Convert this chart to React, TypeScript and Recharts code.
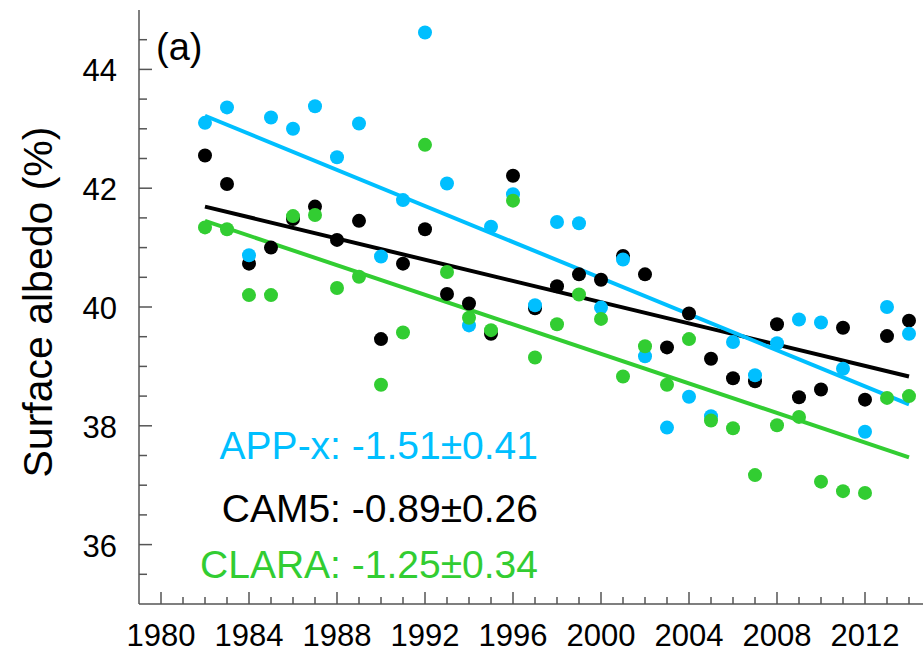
import React from 'react';
import { ComposedChart, Scatter, Line, XAxis, YAxis } from 'recharts';

// ---- data ----
const years = [
  1982, 1983, 1984, 1985, 1986, 1987, 1988, 1989, 1990, 1991, 1992,
  1993, 1994, 1995, 1996, 1997, 1998, 1999, 2000, 2001, 2002, 2003,
  2004, 2005, 2006, 2007, 2008, 2009, 2010, 2011, 2012, 2013, 2014,
];
const appx = [
  43.10, 43.36, 40.87, 43.19, 43.00, 43.38, 42.52, 43.09, 40.85, 41.80, 44.62,
  42.08, 39.69, 41.35, 41.90, 40.03, 41.43, 41.41, 39.99, 40.80, 39.17, 37.97,
  38.49, 38.16, 39.41, 38.85, 39.39, 39.79, 39.74, 38.96, 37.90, 40.00, 39.55,
];
const cam5 = [
  42.55, 42.07, 40.73, 41.00, 41.48, 41.69, 41.13, 41.45, 39.46, 40.73, 41.31,
  40.22, 40.06, 39.55, 42.21, 39.98, 40.35, 40.55, 40.46, 40.86, 40.55, 39.32,
  39.89, 39.13, 38.80, 38.75, 39.71, 38.48, 38.61, 39.65, 38.44, 39.51, 39.77,
];
const clara = [
  41.34, 41.31, 40.20, 40.20, 41.53, 41.55, 40.32, 40.51, 38.69, 39.57, 42.73,
  40.59, 39.82, 39.61, 41.79, 39.15, 39.71, 40.21, 39.80, 38.83, 39.34, 38.69,
  39.46, 38.09, 37.96, 37.17, 38.01, 38.15, 37.06, 36.90, 36.87, 38.47, 38.50,
];
const trendYears = [1982, 2014];
const appxTrend = [43.22, 38.36];
const cam5Trend = [41.69, 38.83];
const claraTrend = [41.45, 37.47];

const xTicks = [
  1980, 1981, 1982, 1983, 1984, 1985, 1986, 1987, 1988, 1989, 1990, 1991,
  1992, 1993, 1994, 1995, 1996, 1997, 1998, 1999, 2000, 2001, 2002, 2003,
  2004, 2005, 2006, 2007, 2008, 2009, 2010, 2011, 2012, 2013, 2014,
];
const xMajor = [1980, 1984, 1988, 1992, 1996, 2000, 2004, 2008, 2012];
const yTicks = [
  35.5, 36, 36.5, 37, 37.5, 38, 38.5, 39, 39.5, 40, 40.5, 41, 41.5, 42,
  42.5, 43, 43.5, 44, 44.5,
];
const yMajor = [36, 38, 40, 42, 44];

const labels = [
  { text: 'APP-x: -1.51\u00B10.41', color: '#00BFFF' },
  { text: 'CAM5: -0.89\u00B10.26', color: '#000000' },
  { text: 'CLARA: -1.25\u00B10.34', color: '#32CD32' },
];

const BLUE = '#00BFFF';
const GREEN = '#32CD32';
const BLACK = '#000000';
const AXIS = '#555555';
const FONT = '"Liberation Sans", Arial, Helvetica, sans-serif';

const toPoints = (vals: number[]) => years.map((y, i) => ({ year: y, v: vals[i] }));
const toTrend = (vals: number[]) => trendYears.map((y, i) => ({ year: y, v: vals[i] }));

const BottomTick = (p: any) => {
  const major = xMajor.includes(p.payload.value);
  return (
    <g>
      <line x1={p.x} y1={p.y} x2={p.x} y2={p.y - (major ? 12 : 7)} stroke={AXIS} strokeWidth={1.5} />
      {major && (
        <text x={p.x} y={p.y + 42} textAnchor="middle" fontSize={31} fontFamily={FONT} fill="#000">
          {p.payload.value}
        </text>
      )}
    </g>
  );
};
const TopTick = (p: any) => {
  const major = xMajor.includes(p.payload.value);
  return <line x1={p.x} y1={p.y} x2={p.x} y2={p.y + (major ? 12 : 7)} stroke={AXIS} strokeWidth={1.5} />;
};
const LeftTick = (p: any) => {
  const major = yMajor.includes(p.payload.value);
  return (
    <g>
      <line x1={p.x} y1={p.y} x2={p.x + (major ? 13 : 8)} y2={p.y} stroke={AXIS} strokeWidth={1.5} />
      {major && (
        <text x={p.x - 22} y={p.y + 12} textAnchor="end" fontSize={31} fontFamily={FONT} fill="#000">
          {p.payload.value}
        </text>
      )}
    </g>
  );
};
const RightTick = (p: any) => {
  const major = yMajor.includes(p.payload.value);
  return <line x1={p.x} y1={p.y} x2={p.x - (major ? 13 : 8)} y2={p.y} stroke={AXIS} strokeWidth={1.5} />;
};

const dot = (color: string) => (p: any) => <circle cx={p.cx} cy={p.cy} r={7} fill={color} />;

export default function App() {
  return (
    <div style={{ position: 'absolute', left: 0, top: 0, width: 923, height: 653, overflow: 'hidden', background: '#fff' }}>
      <ComposedChart width={943} height={653} margin={{ top: 10, right: 12, left: 0, bottom: 0 }}>
        <XAxis
          xAxisId="b"
          type="number"
          dataKey="year"
          domain={[1979, 2015]}
          ticks={xTicks}
          interval={0}
          orientation="bottom"
          height={49}
          tickSize={0}
          tickMargin={0}
          tickLine={false}
          axisLine={{ stroke: AXIS, strokeWidth: 1.5 }}
          tick={(p: any) => <BottomTick {...p} />}
        />
        <XAxis
          xAxisId="t"
          type="number"
          dataKey="year"
          domain={[1979, 2015]}
          ticks={xTicks}
          interval={0}
          orientation="top"
          height={0}
          tickSize={0}
          tickMargin={0}
          tickLine={false}
          axisLine={{ stroke: AXIS, strokeWidth: 1.5 }}
          tick={(p: any) => <TopTick {...p} />}
        />
        <YAxis
          yAxisId="l"
          type="number"
          dataKey="v"
          domain={[35, 45]}
          ticks={yTicks}
          interval={0}
          orientation="left"
          width={139}
          tickSize={0}
          tickMargin={0}
          tickLine={false}
          axisLine={{ stroke: AXIS, strokeWidth: 1.5 }}
          tick={(p: any) => <LeftTick {...p} />}
        />
        <YAxis
          yAxisId="r"
          type="number"
          dataKey="v"
          domain={[35, 45]}
          ticks={yTicks}
          interval={0}
          orientation="right"
          width={0}
          tickSize={0}
          tickMargin={0}
          tickLine={false}
          axisLine={{ stroke: AXIS, strokeWidth: 1.5 }}
          tick={(p: any) => <RightTick {...p} />}
        />
        <Line xAxisId="b" yAxisId="l" data={toTrend(cam5Trend)} dataKey="v" type="linear" stroke={BLACK} strokeWidth={4} dot={false} isAnimationActive={false} />
        <Line xAxisId="b" yAxisId="l" data={toTrend(appxTrend)} dataKey="v" type="linear" stroke={BLUE} strokeWidth={4} dot={false} isAnimationActive={false} />
        <Line xAxisId="b" yAxisId="l" data={toTrend(claraTrend)} dataKey="v" type="linear" stroke={GREEN} strokeWidth={4} dot={false} isAnimationActive={false} />
        <Scatter xAxisId="b" yAxisId="l" data={toPoints(cam5)} dataKey="v" shape={dot(BLACK)} isAnimationActive={false} />
        <Scatter xAxisId="b" yAxisId="l" data={toPoints(appx)} dataKey="v" shape={dot(BLUE)} isAnimationActive={false} />
        <Scatter xAxisId="b" yAxisId="l" data={toPoints(clara)} dataKey="v" shape={dot(GREEN)} isAnimationActive={false} />
      </ComposedChart>
      <svg width={923} height={653} style={{ position: 'absolute', left: 0, top: 0, pointerEvents: 'none' }}>
        <text x={52} y={302} transform="rotate(-90 52 302)" textAnchor="middle" fontSize={41} fontFamily={FONT} fill="#000">
          Surface albedo (%)
        </text>
        <text x={156} y={60} fontSize={38} fontFamily={FONT} fill="#000">(a)</text>
        {labels.map((l, i) => (
          <text key={l.text} x={538} y={[459, 522, 578][i]} textAnchor="end" fontSize={39} fontFamily={FONT} fill={l.color}>
            {l.text}
          </text>
        ))}
      </svg>
    </div>
  );
}
